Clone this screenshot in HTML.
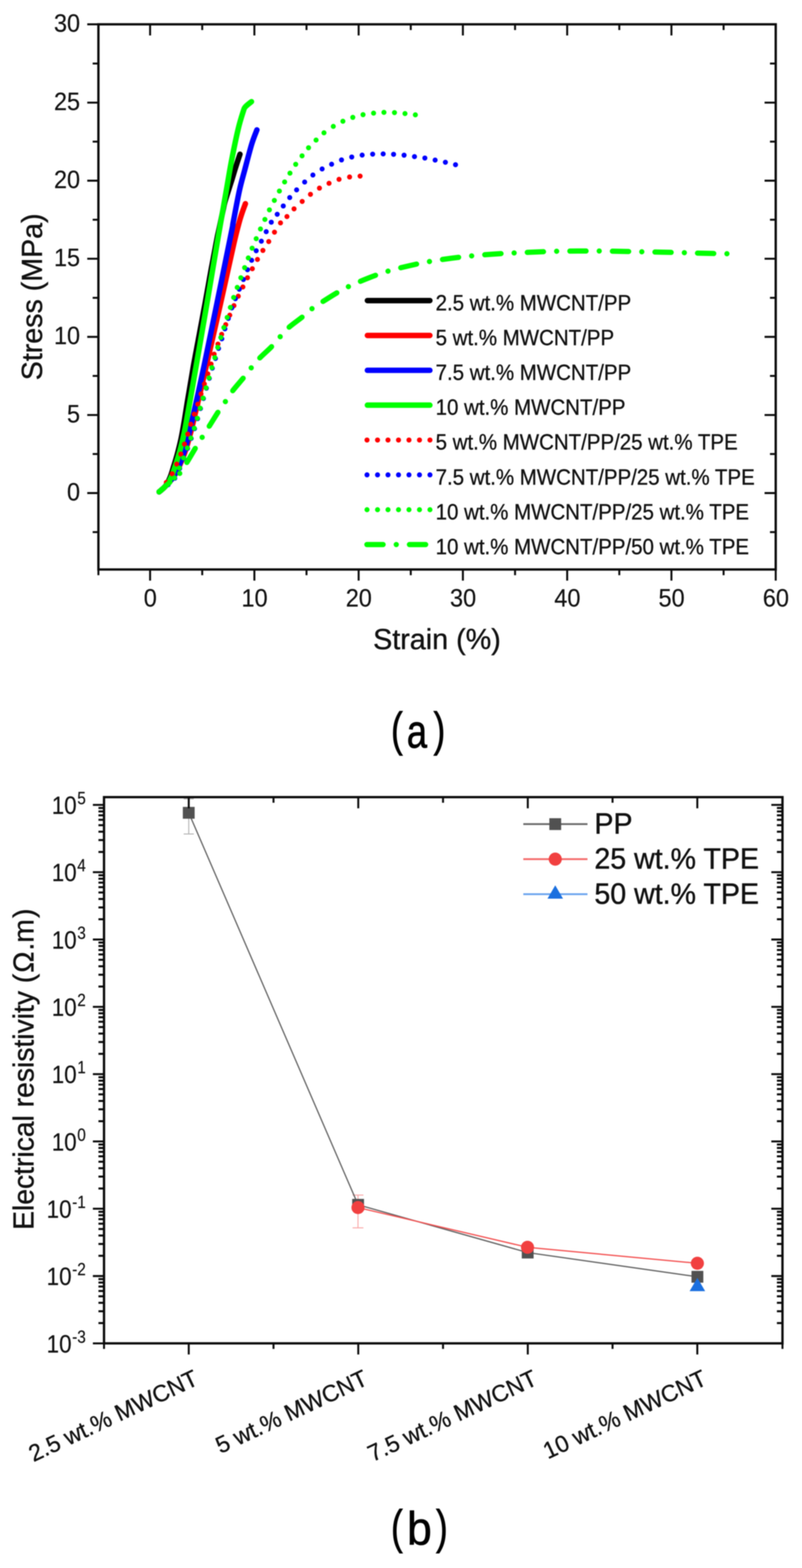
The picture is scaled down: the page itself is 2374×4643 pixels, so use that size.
<!DOCTYPE html>
<html lang="en">
<head>
<meta charset="utf-8">
<title>Stress-strain curves and electrical resistivity of MWCNT/PP/TPE composites</title>
<style>
html,body{margin:0;padding:0;background:#fff;}
body{width:2374px;height:4643px;overflow:hidden;font-family:"Liberation Sans", Arial, Helvetica, sans-serif;}
svg{display:block;filter:blur(1.4px);}
text{white-space:pre;}
</style>
</head>
<body>
<svg width="2374" height="4643" viewBox="0 0 2374 4643" role="img" aria-label="Figure with panels (a) and (b)">
<rect width="2374" height="4643" fill="#fff"/>
<g id="chart-a">
<g fill="none" stroke-linecap="round" stroke-linejoin="round" stroke-width="16.2">
<path d="M471.0,1456.5 C473.3,1454.5 481.1,1448.5 485.0,1444.5 C488.9,1440.5 492.0,1436.5 494.6,1432.5 C497.2,1428.5 498.6,1424.5 500.4,1420.5 C502.2,1416.5 503.9,1412.5 505.4,1408.5 C506.9,1404.5 508.1,1400.5 509.4,1396.5 C510.7,1392.5 511.8,1388.5 513.0,1384.5 C514.2,1380.5 515.6,1376.5 516.8,1372.5 C518.0,1368.5 519.2,1364.5 520.4,1360.5 C521.6,1356.5 522.8,1352.5 523.9,1348.5 C525.0,1344.5 526.1,1340.5 527.1,1336.5 C528.1,1332.5 529.1,1328.5 530.1,1324.5 C531.1,1320.5 532.1,1316.5 533.0,1312.5 C533.9,1308.5 534.9,1304.5 535.7,1300.5 C536.6,1296.5 537.3,1292.5 538.1,1288.5 C538.9,1284.5 539.7,1280.5 540.4,1276.5 C541.1,1272.5 541.8,1268.5 542.5,1264.5 C543.2,1260.5 543.9,1256.5 544.6,1252.5 C545.3,1248.5 546.0,1244.5 546.6,1240.5 C547.2,1236.5 547.9,1232.5 548.5,1228.5 C549.1,1224.5 549.8,1220.5 550.4,1216.5 C551.0,1212.5 551.7,1208.5 552.3,1204.5 C552.9,1200.5 553.6,1196.5 554.2,1192.5 C554.9,1188.5 555.5,1184.5 556.2,1180.5 C556.9,1176.5 557.6,1172.5 558.3,1168.5 C559.0,1164.5 559.6,1160.5 560.3,1156.5 C561.0,1152.5 561.6,1148.5 562.3,1144.5 C563.0,1140.5 563.6,1136.5 564.3,1132.5 C565.0,1128.5 565.7,1124.5 566.4,1120.5 C567.1,1116.5 567.7,1112.5 568.4,1108.5 C569.1,1104.5 569.7,1100.5 570.4,1096.5 C571.1,1092.5 571.7,1088.5 572.4,1084.5 C573.1,1080.5 573.9,1076.5 574.6,1072.5 C575.4,1068.5 576.1,1064.5 576.9,1060.5 C577.6,1056.5 578.4,1052.5 579.1,1048.5 C579.9,1044.5 580.6,1040.5 581.4,1036.5 C582.1,1032.5 582.9,1028.5 583.6,1024.5 C584.4,1020.5 585.1,1016.5 585.9,1012.5 C586.6,1008.5 587.4,1004.5 588.1,1000.5 C588.9,996.5 589.6,992.5 590.4,988.5 C591.1,984.5 591.9,980.5 592.6,976.5 C593.3,972.5 594.0,968.5 594.8,964.5 C595.5,960.5 596.4,956.5 597.1,952.5 C597.9,948.5 598.6,944.5 599.3,940.5 C600.0,936.5 600.8,932.5 601.5,928.5 C602.2,924.5 603.0,920.5 603.7,916.5 C604.5,912.5 605.2,908.5 606.0,904.5 C606.8,900.5 607.5,896.5 608.2,892.5 C608.9,888.5 609.6,884.5 610.3,880.5 C611.0,876.5 611.8,872.5 612.5,868.5 C613.2,864.5 613.9,860.5 614.6,856.5 C615.3,852.5 616.1,848.5 616.8,844.5 C617.5,840.5 618.2,836.5 618.9,832.5 C619.6,828.5 620.3,824.5 621.0,820.5 C621.7,816.5 622.5,812.5 623.2,808.5 C623.9,804.5 624.6,800.5 625.3,796.5 C626.0,792.5 626.8,788.5 627.6,784.5 C628.4,780.5 629.1,776.5 629.9,772.5 C630.6,768.5 631.4,764.5 632.1,760.5 C632.9,756.5 633.6,752.5 634.4,748.5 C635.2,744.5 636.0,740.5 636.7,736.5 C637.5,732.5 638.1,728.5 638.9,724.5 C639.6,720.5 640.4,716.5 641.2,712.5 C642.0,708.5 642.7,704.5 643.5,700.5 C644.3,696.5 645.2,692.5 646.1,688.5 C647.0,684.5 647.9,680.5 648.8,676.5 C649.7,672.5 650.5,668.5 651.4,664.5 C652.2,660.5 653.1,656.5 653.9,652.5 C654.7,648.5 655.5,644.5 656.4,640.5 C657.2,636.5 658.1,632.5 659.0,628.5 C659.9,624.5 660.6,621.2 661.6,616.5 C662.6,611.8 662.7,608.8 665.1,600.0 C667.5,591.2 672.9,574.5 676.3,563.7 C679.7,552.9 682.5,544.5 685.5,535.0 C688.5,525.5 691.2,516.0 694.0,506.8 C696.8,497.6 699.8,488.4 702.5,480.0 C705.2,471.6 709.0,460.6 710.3,456.7" stroke="#000"/>
<path d="M471.0,1456.5 C472.7,1455.1 477.8,1450.9 481.0,1448.0 C484.2,1445.1 487.0,1442.5 490.5,1439.0 C494.0,1435.5 497.9,1431.8 502.0,1427.0 C506.1,1422.2 510.8,1416.5 515.0,1410.0 C519.2,1403.5 521.8,1400.8 527.5,1388.0 C533.2,1375.2 542.5,1354.3 549.5,1333.0 C556.5,1311.7 559.2,1302.2 569.5,1260.0 C579.8,1217.8 597.7,1140.0 611.5,1080.0 C625.3,1020.0 639.0,960.0 652.5,900.0 C666.0,840.0 683.3,760.0 692.5,720.0 C701.7,680.0 703.6,674.7 707.5,660.0 C711.4,645.3 712.9,641.5 716.0,632.0 C719.1,622.5 724.7,608.0 726.4,603.2" stroke="#ff0000"/>
<path d="M471.0,1456.5 C472.7,1455.1 477.8,1450.9 481.0,1448.0 C484.2,1445.1 487.0,1442.5 490.5,1439.0 C494.0,1435.5 498.1,1431.8 502.0,1427.0 C505.9,1422.2 510.0,1416.5 514.0,1410.0 C518.0,1403.5 520.6,1400.8 526.0,1388.0 C531.4,1375.2 540.0,1354.3 546.5,1333.0 C553.0,1311.7 555.3,1302.2 565.0,1260.0 C574.7,1217.8 585.2,1173.3 604.8,1080.0 C624.4,986.7 668.3,770.0 682.5,700.0 C696.7,630.0 685.6,682.7 690.0,660.0 C694.4,637.3 703.0,589.9 708.8,563.7 C714.5,537.5 718.5,525.8 724.5,503.0 C730.5,480.2 739.0,446.8 745.0,427.0 C751.0,407.2 757.9,391.6 760.5,384.5" stroke="#0000ff"/>
<path d="M471.0,1456.5 C472.7,1455.1 477.8,1450.9 481.0,1448.0 C484.2,1445.1 487.3,1442.7 490.5,1439.0 C493.7,1435.3 497.1,1430.8 500.0,1426.0 C502.9,1421.2 505.3,1416.3 508.0,1410.0 C510.7,1403.7 511.8,1400.8 516.0,1388.0 C520.2,1375.2 527.4,1354.3 533.0,1333.0 C538.6,1311.7 541.5,1302.2 549.5,1260.0 C557.5,1217.8 570.7,1140.0 581.2,1080.0 C591.7,1020.0 601.5,963.3 612.3,900.0 C623.1,836.7 636.5,756.0 646.1,700.0 C655.7,644.0 663.4,601.6 670.0,563.7 C676.6,525.8 680.1,503.0 686.0,472.6 C691.9,442.2 699.5,405.3 705.2,381.5 C710.9,357.7 716.5,340.9 720.0,330.0 C723.5,319.1 722.3,321.0 726.4,316.2 C730.5,311.4 741.4,303.5 744.4,301.0" stroke="#00ff00"/>
</g>
<g fill="#ff0000">
<circle cx="1065.9" cy="521.5" r="7.5"/><circle cx="1034.8" cy="524.1" r="7.5"/><circle cx="1003.6" cy="531.0" r="7.5"/><circle cx="974.0" cy="542.7" r="7.5"/><circle cx="945.6" cy="557.1" r="7.5"/><circle cx="919.0" cy="575.4" r="7.5"/><circle cx="894.5" cy="596.5" r="7.5"/><circle cx="870.4" cy="618.4" r="7.5"/><circle cx="849.4" cy="641.2" r="7.5"/><circle cx="830.3" cy="660.0" r="7.5"/><circle cx="812.5" cy="687.5" r="7.5"/><circle cx="795.5" cy="715.2" r="7.5"/><circle cx="778.2" cy="741.6" r="7.5"/><circle cx="762.1" cy="768.3" r="7.5"/><circle cx="746.9" cy="795.7" r="7.5"/><circle cx="732.6" cy="822.4" r="7.5"/><circle cx="718.9" cy="849.7" r="7.5"/><circle cx="705.3" cy="877.1" r="7.5"/><circle cx="692.5" cy="905.0" r="7.5"/><circle cx="680.1" cy="933.3" r="7.5"/><circle cx="668.2" cy="961.2" r="7.5"/><circle cx="656.1" cy="990.0" r="7.5"/><circle cx="645.1" cy="1018.9" r="7.5"/><circle cx="633.9" cy="1048.7" r="7.5"/><circle cx="624.8" cy="1078.1" r="7.5"/><circle cx="615.2" cy="1107.0" r="7.5"/><circle cx="605.0" cy="1137.0" r="7.5"/><circle cx="595.0" cy="1166.4" r="7.5"/><circle cx="585.6" cy="1196.8" r="7.5"/><circle cx="575.0" cy="1226.2" r="7.5"/><circle cx="564.8" cy="1256.3" r="7.5"/><circle cx="555.8" cy="1285.4" r="7.5"/><circle cx="546.0" cy="1315.0" r="7.5"/><circle cx="535.2" cy="1344.6" r="7.5"/><circle cx="523.1" cy="1374.3" r="7.5"/><circle cx="509.4" cy="1402.9" r="7.5"/><circle cx="492.4" cy="1428.6" r="7.5"/>
</g>
<g fill="#0000ff">
<circle cx="1348.4" cy="487.7" r="7.5"/><circle cx="1318.4" cy="480.5" r="7.5"/><circle cx="1288.0" cy="474.0" r="7.5"/><circle cx="1257.6" cy="467.9" r="7.5"/><circle cx="1226.9" cy="463.8" r="7.5"/><circle cx="1196.1" cy="459.6" r="7.5"/><circle cx="1165.0" cy="456.9" r="7.5"/><circle cx="1134.2" cy="455.8" r="7.5"/><circle cx="1103.1" cy="456.5" r="7.5"/><circle cx="1072.0" cy="459.2" r="7.5"/><circle cx="1041.2" cy="464.9" r="7.5"/><circle cx="1010.9" cy="473.6" r="7.5"/><circle cx="981.6" cy="486.2" r="7.5"/><circle cx="953.5" cy="500.3" r="7.5"/><circle cx="926.2" cy="518.3" r="7.5"/><circle cx="901.8" cy="539.0" r="7.5"/><circle cx="878.0" cy="562.2" r="7.5"/><circle cx="857.6" cy="585.0" r="7.5"/><circle cx="838.5" cy="609.9" r="7.5"/><circle cx="820.6" cy="634.5" r="7.5"/><circle cx="803.0" cy="657.9" r="7.5"/><circle cx="788.0" cy="686.0" r="7.5"/><circle cx="773.6" cy="714.3" r="7.5"/><circle cx="758.4" cy="742.5" r="7.5"/><circle cx="744.8" cy="770.8" r="7.5"/><circle cx="732.6" cy="798.7" r="7.5"/><circle cx="720.5" cy="827.6" r="7.5"/><circle cx="708.3" cy="856.4" r="7.5"/><circle cx="696.8" cy="884.4" r="7.5"/><circle cx="686.1" cy="911.7" r="7.5"/><circle cx="675.8" cy="943.0" r="7.5"/><circle cx="665.7" cy="973.7" r="7.5"/><circle cx="656.6" cy="1003.2" r="7.5"/><circle cx="646.9" cy="1031.8" r="7.5"/><circle cx="637.8" cy="1061.4" r="7.5"/><circle cx="628.4" cy="1090.2" r="7.5"/><circle cx="619.6" cy="1120.2" r="7.5"/><circle cx="610.9" cy="1149.6" r="7.5"/><circle cx="602.2" cy="1180.0" r="7.5"/><circle cx="593.4" cy="1209.8" r="7.5"/><circle cx="584.9" cy="1239.7" r="7.5"/><circle cx="575.9" cy="1269.2" r="7.5"/><circle cx="565.9" cy="1298.2" r="7.5"/><circle cx="555.3" cy="1327.7" r="7.5"/><circle cx="544.2" cy="1357.2" r="7.5"/><circle cx="531.9" cy="1386.9" r="7.5"/><circle cx="517.4" cy="1416.1" r="7.5"/><circle cx="497.9" cy="1435.2" r="7.5"/>
</g>
<g fill="#00ff00">
<circle cx="1229.5" cy="340.0" r="7.5"/><circle cx="1198.8" cy="336.2" r="7.5"/><circle cx="1167.7" cy="333.5" r="7.5"/><circle cx="1136.5" cy="332.8" r="7.5"/><circle cx="1105.8" cy="335.0" r="7.5"/><circle cx="1074.6" cy="339.6" r="7.5"/><circle cx="1044.3" cy="347.6" r="7.5"/><circle cx="1015.0" cy="359.0" r="7.5"/><circle cx="986.6" cy="374.2" r="7.5"/><circle cx="959.0" cy="393.3" r="7.5"/><circle cx="935.6" cy="414.8" r="7.5"/><circle cx="913.3" cy="437.6" r="7.5"/><circle cx="894.1" cy="461.4" r="7.5"/><circle cx="875.3" cy="486.6" r="7.5"/><circle cx="858.3" cy="512.7" r="7.5"/><circle cx="842.5" cy="538.8" r="7.5"/><circle cx="827.0" cy="565.8" r="7.5"/><circle cx="812.1" cy="593.5" r="7.5"/><circle cx="797.5" cy="621.4" r="7.5"/><circle cx="784.1" cy="649.7" r="7.5"/><circle cx="771.0" cy="678.0" r="7.5"/><circle cx="758.4" cy="706.7" r="7.5"/><circle cx="746.3" cy="734.9" r="7.5"/><circle cx="735.0" cy="763.8" r="7.5"/><circle cx="724.1" cy="792.6" r="7.5"/><circle cx="712.9" cy="822.4" r="7.5"/><circle cx="702.2" cy="851.0" r="7.5"/><circle cx="691.6" cy="880.7" r="7.5"/><circle cx="681.9" cy="910.2" r="7.5"/><circle cx="672.5" cy="939.9" r="7.5"/><circle cx="662.7" cy="969.7" r="7.5"/><circle cx="653.6" cy="999.2" r="7.5"/><circle cx="644.5" cy="1028.6" r="7.5"/><circle cx="636.0" cy="1059.0" r="7.5"/><circle cx="627.2" cy="1088.6" r="7.5"/><circle cx="618.7" cy="1119.0" r="7.5"/><circle cx="610.0" cy="1148.4" r="7.5"/><circle cx="601.3" cy="1178.8" r="7.5"/><circle cx="592.5" cy="1208.6" r="7.5"/><circle cx="584.0" cy="1238.5" r="7.5"/><circle cx="575.0" cy="1268.0" r="7.5"/><circle cx="565.0" cy="1297.0" r="7.5"/><circle cx="554.4" cy="1326.5" r="7.5"/><circle cx="543.3" cy="1356.0" r="7.5"/><circle cx="531.0" cy="1385.7" r="7.5"/><circle cx="516.5" cy="1414.9" r="7.5"/><circle cx="497.0" cy="1434.0" r="7.5"/>
</g>
<path d="M471.0,1456.5 C476.2,1451.8 492.0,1437.5 502.5,1428.0 C513.0,1418.5 525.2,1409.8 533.9,1399.6 C542.6,1389.4 547.1,1379.2 554.8,1366.6 C562.5,1354.0 572.9,1336.0 580.3,1323.8 C587.7,1311.6 592.7,1304.1 599.3,1293.6 C605.9,1283.1 612.0,1273.6 620.0,1261.0 C628.0,1248.4 639.1,1230.1 647.0,1218.0 C654.9,1205.9 660.4,1199.0 667.6,1188.6 C674.8,1178.2 681.1,1167.1 690.0,1155.5 C698.9,1143.9 711.8,1129.8 720.7,1118.8 C729.6,1107.8 735.4,1099.3 743.2,1089.7 C751.0,1080.1 757.4,1071.9 767.5,1061.4 C777.6,1050.9 794.0,1036.9 804.0,1026.5 C814.0,1016.1 819.0,1008.6 827.4,999.2 C835.8,989.8 842.8,980.4 854.1,970.3 C865.4,960.2 883.9,947.5 895.1,938.4 C906.3,929.3 911.0,923.3 921.5,915.5 C932.0,907.7 945.1,899.6 957.8,891.5 C970.5,883.4 985.5,873.9 997.7,866.8 C1009.9,859.7 1015.7,856.1 1031.1,848.9 C1046.5,841.7 1070.3,831.2 1090.0,823.5 C1109.7,815.8 1129.3,808.7 1149.5,802.6 C1169.7,796.5 1190.5,791.7 1211.0,787.0 C1231.5,782.3 1251.5,777.9 1272.2,774.2 C1293.0,770.5 1314.8,767.5 1335.5,764.8 C1356.2,762.0 1375.5,759.8 1396.2,757.7 C1417.0,755.6 1439.0,753.9 1460.0,752.4 C1481.0,750.9 1501.4,750.0 1522.2,749.0 C1543.0,748.0 1564.1,747.1 1585.0,746.3 C1605.9,745.5 1626.5,744.5 1647.5,744.0 C1668.5,743.5 1690.1,743.4 1711.0,743.3 C1731.9,743.2 1752.0,743.1 1772.8,743.3 C1793.6,743.4 1815.2,743.8 1836.0,744.2 C1856.8,744.6 1877.1,745.1 1897.8,745.5 C1918.5,745.9 1939.1,746.3 1960.0,746.8 C1980.9,747.2 2002.1,747.7 2023.1,748.2 C2044.1,748.8 2064.5,749.6 2086.0,750.1 C2107.5,750.6 2141.0,751.1 2152.0,751.3" fill="none" stroke="#00ff00" stroke-width="15.5" stroke-linecap="round" stroke-dasharray="48 39 0.01 39" stroke-dashoffset="5"/>
<g stroke="#0a0a0a" fill="none" stroke-linecap="butt">
<rect x="291.3" y="72.0" width="2004.8999999999999" height="1614.3" stroke-width="6.9"/>
<path d="M291.3,1686.3v17.0M291.3,72.0v17.0M444.3,1686.3v33.0M444.3,72.0v33.0M598.6,1686.3v17.0M598.6,72.0v17.0M753.0,1686.3v33.0M753.0,72.0v33.0M907.3,1686.3v17.0M907.3,72.0v17.0M1061.6,1686.3v33.0M1061.6,72.0v33.0M1215.9,1686.3v17.0M1215.9,72.0v17.0M1370.2,1686.3v33.0M1370.2,72.0v33.0M1524.6,1686.3v17.0M1524.6,72.0v17.0M1678.9,1686.3v33.0M1678.9,72.0v33.0M1833.2,1686.3v17.0M1833.2,72.0v17.0M1987.5,1686.3v33.0M1987.5,72.0v33.0M2141.9,1686.3v17.0M2141.9,72.0v17.0M2296.2,1686.3v33.0M2296.2,72.0v33.0M291.3,72.0h-33.0M2296.2,72.0h-33.0M291.3,188.1h-17.0M2296.2,188.1h-17.0M291.3,303.8h-33.0M2296.2,303.8h-33.0M291.3,419.4h-17.0M2296.2,419.4h-17.0M291.3,535.0h-33.0M2296.2,535.0h-33.0M291.3,650.6h-17.0M2296.2,650.6h-17.0M291.3,766.2h-33.0M2296.2,766.2h-33.0M291.3,881.9h-17.0M2296.2,881.9h-17.0M291.3,997.5h-33.0M2296.2,997.5h-33.0M291.3,1113.1h-17.0M2296.2,1113.1h-17.0M291.3,1228.8h-33.0M2296.2,1228.8h-33.0M291.3,1344.4h-17.0M2296.2,1344.4h-17.0M291.3,1460.0h-33.0M2296.2,1460.0h-33.0M291.3,1575.6h-17.0M2296.2,1575.6h-17.0" stroke-width="5.8"/>
</g>
<g font-family='"Liberation Sans", Arial, Helvetica, sans-serif'>
<text transform="translate(237.0,1481.8) scale(0.94,1)" font-size="74" fill="#111" stroke="#111" stroke-width="0.5" text-anchor="end">0</text>
<text transform="translate(237.0,1250.5) scale(0.94,1)" font-size="74" fill="#111" stroke="#111" stroke-width="0.5" text-anchor="end">5</text>
<text transform="translate(237.0,1019.3) scale(0.94,1)" font-size="74" fill="#111" stroke="#111" stroke-width="0.5" text-anchor="end">10</text>
<text transform="translate(237.0,788.0) scale(0.94,1)" font-size="74" fill="#111" stroke="#111" stroke-width="0.5" text-anchor="end">15</text>
<text transform="translate(237.0,556.8) scale(0.94,1)" font-size="74" fill="#111" stroke="#111" stroke-width="0.5" text-anchor="end">20</text>
<text transform="translate(237.0,325.6) scale(0.94,1)" font-size="74" fill="#111" stroke="#111" stroke-width="0.5" text-anchor="end">25</text>
<text transform="translate(237.0,93.8) scale(0.94,1)" font-size="74" fill="#111" stroke="#111" stroke-width="0.5" text-anchor="end">30</text>
<text transform="translate(444.8,1795.5) scale(0.94,1)" font-size="74" fill="#111" stroke="#111" stroke-width="0.5" text-anchor="middle">0</text>
<text transform="translate(753.5,1795.5) scale(0.94,1)" font-size="74" fill="#111" stroke="#111" stroke-width="0.5" text-anchor="middle">10</text>
<text transform="translate(1062.1,1795.5) scale(0.94,1)" font-size="74" fill="#111" stroke="#111" stroke-width="0.5" text-anchor="middle">20</text>
<text transform="translate(1370.8,1795.5) scale(0.94,1)" font-size="74" fill="#111" stroke="#111" stroke-width="0.5" text-anchor="middle">30</text>
<text transform="translate(1679.4,1795.5) scale(0.94,1)" font-size="74" fill="#111" stroke="#111" stroke-width="0.5" text-anchor="middle">40</text>
<text transform="translate(1988.0,1795.5) scale(0.94,1)" font-size="74" fill="#111" stroke="#111" stroke-width="0.5" text-anchor="middle">50</text>
<text transform="translate(2296.7,1795.5) scale(0.94,1)" font-size="74" fill="#111" stroke="#111" stroke-width="0.5" text-anchor="middle">60</text>
</g>
<g font-family='"Liberation Sans", Arial, Helvetica, sans-serif'>
<text transform="translate(1293.4,1922.0)" font-size="85" fill="#111" stroke="#111" stroke-width="1.1" text-anchor="middle">Strain (%)</text>
<text transform="translate(124.3,879.0) rotate(-90) scale(0.996,1)" font-size="85" fill="#111" stroke="#111" stroke-width="1.1" text-anchor="middle">Stress (MPa)</text>
</g>
<g font-family='"Liberation Sans", Arial, Helvetica, sans-serif'>
<path d="M1087.5,890.1H1272.5" stroke="#000" stroke-width="16.2" stroke-linecap="round" fill="none"/>
<text transform="translate(1289.5,918.6) scale(0.932,1)" font-size="65" fill="#111" stroke="#111" stroke-width="0.9">2.5 wt.% MWCNT/PP</text>
<path d="M1087.5,993.3H1272.5" stroke="#ff0000" stroke-width="16.2" stroke-linecap="round" fill="none"/>
<text transform="translate(1289.5,1021.8) scale(0.932,1)" font-size="65" fill="#111" stroke="#111" stroke-width="0.9">5 wt.% MWCNT/PP</text>
<path d="M1087.5,1096.5H1272.5" stroke="#0000ff" stroke-width="16.2" stroke-linecap="round" fill="none"/>
<text transform="translate(1289.5,1125.0) scale(0.932,1)" font-size="65" fill="#111" stroke="#111" stroke-width="0.9">7.5 wt.% MWCNT/PP</text>
<path d="M1087.5,1199.7H1272.5" stroke="#00ff00" stroke-width="16.2" stroke-linecap="round" fill="none"/>
<text transform="translate(1289.5,1228.2) scale(0.932,1)" font-size="65" fill="#111" stroke="#111" stroke-width="0.9">10 wt.% MWCNT/PP</text>
<circle cx="1086.4" cy="1302.9" r="7.5" fill="#ff0000"/><circle cx="1117.5" cy="1302.9" r="7.5" fill="#ff0000"/><circle cx="1148.5" cy="1302.9" r="7.5" fill="#ff0000"/><circle cx="1179.6" cy="1302.9" r="7.5" fill="#ff0000"/><circle cx="1210.6" cy="1302.9" r="7.5" fill="#ff0000"/><circle cx="1241.7" cy="1302.9" r="7.5" fill="#ff0000"/><circle cx="1272.7" cy="1302.9" r="7.5" fill="#ff0000"/>
<text transform="translate(1289.5,1331.4) scale(0.932,1)" font-size="65" fill="#111" stroke="#111" stroke-width="0.9">5 wt.% MWCNT/PP/25 wt.% TPE</text>
<circle cx="1086.4" cy="1406.1" r="7.5" fill="#0000ff"/><circle cx="1117.5" cy="1406.1" r="7.5" fill="#0000ff"/><circle cx="1148.5" cy="1406.1" r="7.5" fill="#0000ff"/><circle cx="1179.6" cy="1406.1" r="7.5" fill="#0000ff"/><circle cx="1210.6" cy="1406.1" r="7.5" fill="#0000ff"/><circle cx="1241.7" cy="1406.1" r="7.5" fill="#0000ff"/><circle cx="1272.7" cy="1406.1" r="7.5" fill="#0000ff"/>
<text transform="translate(1289.5,1434.6) scale(0.932,1)" font-size="65" fill="#111" stroke="#111" stroke-width="0.9">7.5 wt.% MWCNT/PP/25 wt.% TPE</text>
<circle cx="1086.4" cy="1509.3" r="7.5" fill="#00ff00"/><circle cx="1117.5" cy="1509.3" r="7.5" fill="#00ff00"/><circle cx="1148.5" cy="1509.3" r="7.5" fill="#00ff00"/><circle cx="1179.6" cy="1509.3" r="7.5" fill="#00ff00"/><circle cx="1210.6" cy="1509.3" r="7.5" fill="#00ff00"/><circle cx="1241.7" cy="1509.3" r="7.5" fill="#00ff00"/><circle cx="1272.7" cy="1509.3" r="7.5" fill="#00ff00"/>
<text transform="translate(1289.5,1537.8) scale(0.932,1)" font-size="65" fill="#111" stroke="#111" stroke-width="0.9">10 wt.% MWCNT/PP/25 wt.% TPE</text>
<path d="M1086.0,1612.5H1272.5" stroke="#00ff00" stroke-width="15.5" stroke-linecap="round" stroke-dasharray="48 39 0.01 39" fill="none"/>
<text transform="translate(1289.5,1641.0) scale(0.932,1)" font-size="65" fill="#111" stroke="#111" stroke-width="0.9">10 wt.% MWCNT/PP/50 wt.% TPE</text>
</g>
</g>
<text font-family='"Liberation Sans", Arial, Helvetica, sans-serif' fill="#000" stroke="#000"><tspan x="1157.4" y="2208" font-size="141" stroke-width="2.0" textLength="34.75" lengthAdjust="spacingAndGlyphs">(</tspan><tspan x="1204.2" y="2214" font-size="140" stroke-width="2.0" textLength="59.94" lengthAdjust="spacingAndGlyphs">a</tspan><tspan x="1283.2" y="2208" font-size="141" stroke-width="2.0" textLength="34.75" lengthAdjust="spacingAndGlyphs">)</tspan></text>
<g id="chart-b">
<g fill="none" stroke-width="3">
<path d="M558.7,2365.5V2469.4M543.7,2365.5h30M543.7,2469.4h30" stroke="#b4b4b4"/>
<path d="M1059.7,3538.7V3635.8M1043.7,3538.7h32M1043.7,3635.8h32" stroke="#f9a8a8"/>
<path d="M1060,3556V3580M1045.0,3556h30M1045.0,3580h30" stroke="#9a9a9a"/>
</g>
<polyline points="558.7,2406.8 1060,3567.5 1562,3709 2064.4,3780.7" fill="none" stroke="#626262" stroke-width="3.7"/>
<polyline points="1059.7,3575.7 1561.5,3693.4 2064.3,3740.7" fill="none" stroke="#f35252" stroke-width="3.7"/>
<rect x="541.2" y="2389.3" width="35" height="35" fill="#515151"/>
<rect x="1042.5" y="3550.0" width="35" height="35" fill="#515151"/>
<rect x="1544.5" y="3691.5" width="35" height="35" fill="#515151"/>
<rect x="2046.9" y="3763.2" width="35" height="35" fill="#515151"/>
<circle cx="1059.7" cy="3575.7" r="19.4" fill="#f14040"/>
<circle cx="1561.5" cy="3693.4" r="19.4" fill="#f14040"/>
<circle cx="2064.3" cy="3740.7" r="19.4" fill="#f14040"/>
<path d="M2064.3,3783.7l23.0,39.5h-46z" fill="#1a6fdf"/>
<g stroke="#0a0a0a" fill="none">
<rect x="307.9" y="2360.4" width="2008.2999999999997" height="1617.4" stroke-width="6.9"/>
<path d="M307.9,3977.8v16.5M307.9,2360.4v16.5M558.7,3977.8v33M558.7,2360.4v33M809.6,3977.8v16.5M809.6,2360.4v16.5M1060.5,3977.8v33M1060.5,2360.4v33M1311.4,3977.8v16.5M1311.4,2360.4v16.5M1562.3,3977.8v33M1562.3,2360.4v33M1813.2,3977.8v16.5M1813.2,2360.4v16.5M2064.1,3977.8v33M2064.1,2360.4v33M2316.2,3977.8v16.5M2316.2,2360.4v16.5" stroke-width="5.8"/>
<path d="M307.9,3977.8h-33M2316.2,3977.8h-33M307.9,3778.5h-33M2316.2,3778.5h-33M307.9,3579.2h-33M2316.2,3579.2h-33M307.9,3379.9h-33M2316.2,3379.9h-33M307.9,3180.6h-33M2316.2,3180.6h-33M307.9,2981.3h-33M2316.2,2981.3h-33M307.9,2782.0h-33M2316.2,2782.0h-33M307.9,2582.7h-33M2316.2,2582.7h-33M307.9,2383.4h-33M2316.2,2383.4h-33" stroke-width="5.8"/>
<path d="M307.9,3917.8h-16.5M2316.2,3917.8h-16.5M307.9,3882.7h-16.5M2316.2,3882.7h-16.5M307.9,3857.8h-16.5M2316.2,3857.8h-16.5M307.9,3838.5h-16.5M2316.2,3838.5h-16.5M307.9,3822.7h-16.5M2316.2,3822.7h-16.5M307.9,3809.4h-16.5M2316.2,3809.4h-16.5M307.9,3797.8h-16.5M2316.2,3797.8h-16.5M307.9,3787.6h-16.5M2316.2,3787.6h-16.5M307.9,3718.5h-16.5M2316.2,3718.5h-16.5M307.9,3683.4h-16.5M2316.2,3683.4h-16.5M307.9,3658.5h-16.5M2316.2,3658.5h-16.5M307.9,3639.2h-16.5M2316.2,3639.2h-16.5M307.9,3623.4h-16.5M2316.2,3623.4h-16.5M307.9,3610.1h-16.5M2316.2,3610.1h-16.5M307.9,3598.5h-16.5M2316.2,3598.5h-16.5M307.9,3588.3h-16.5M2316.2,3588.3h-16.5M307.9,3519.2h-16.5M2316.2,3519.2h-16.5M307.9,3484.1h-16.5M2316.2,3484.1h-16.5M307.9,3459.2h-16.5M2316.2,3459.2h-16.5M307.9,3439.9h-16.5M2316.2,3439.9h-16.5M307.9,3424.1h-16.5M2316.2,3424.1h-16.5M307.9,3410.8h-16.5M2316.2,3410.8h-16.5M307.9,3399.2h-16.5M2316.2,3399.2h-16.5M307.9,3389.0h-16.5M2316.2,3389.0h-16.5M307.9,3319.9h-16.5M2316.2,3319.9h-16.5M307.9,3284.8h-16.5M2316.2,3284.8h-16.5M307.9,3259.9h-16.5M2316.2,3259.9h-16.5M307.9,3240.6h-16.5M2316.2,3240.6h-16.5M307.9,3224.8h-16.5M2316.2,3224.8h-16.5M307.9,3211.5h-16.5M2316.2,3211.5h-16.5M307.9,3199.9h-16.5M2316.2,3199.9h-16.5M307.9,3189.7h-16.5M2316.2,3189.7h-16.5M307.9,3120.6h-16.5M2316.2,3120.6h-16.5M307.9,3085.5h-16.5M2316.2,3085.5h-16.5M307.9,3060.6h-16.5M2316.2,3060.6h-16.5M307.9,3041.3h-16.5M2316.2,3041.3h-16.5M307.9,3025.5h-16.5M2316.2,3025.5h-16.5M307.9,3012.2h-16.5M2316.2,3012.2h-16.5M307.9,3000.6h-16.5M2316.2,3000.6h-16.5M307.9,2990.4h-16.5M2316.2,2990.4h-16.5M307.9,2921.3h-16.5M2316.2,2921.3h-16.5M307.9,2886.2h-16.5M2316.2,2886.2h-16.5M307.9,2861.3h-16.5M2316.2,2861.3h-16.5M307.9,2842.0h-16.5M2316.2,2842.0h-16.5M307.9,2826.2h-16.5M2316.2,2826.2h-16.5M307.9,2812.9h-16.5M2316.2,2812.9h-16.5M307.9,2801.3h-16.5M2316.2,2801.3h-16.5M307.9,2791.1h-16.5M2316.2,2791.1h-16.5M307.9,2722.0h-16.5M2316.2,2722.0h-16.5M307.9,2686.9h-16.5M2316.2,2686.9h-16.5M307.9,2662.0h-16.5M2316.2,2662.0h-16.5M307.9,2642.7h-16.5M2316.2,2642.7h-16.5M307.9,2626.9h-16.5M2316.2,2626.9h-16.5M307.9,2613.6h-16.5M2316.2,2613.6h-16.5M307.9,2602.0h-16.5M2316.2,2602.0h-16.5M307.9,2591.8h-16.5M2316.2,2591.8h-16.5M307.9,2522.7h-16.5M2316.2,2522.7h-16.5M307.9,2487.6h-16.5M2316.2,2487.6h-16.5M307.9,2462.7h-16.5M2316.2,2462.7h-16.5M307.9,2443.4h-16.5M2316.2,2443.4h-16.5M307.9,2427.6h-16.5M2316.2,2427.6h-16.5M307.9,2414.3h-16.5M2316.2,2414.3h-16.5M307.9,2402.7h-16.5M2316.2,2402.7h-16.5M307.9,2392.5h-16.5M2316.2,2392.5h-16.5" stroke-width="6"/>
</g>
<g font-family='"Liberation Sans", Arial, Helvetica, sans-serif'>
<text transform="translate(254.0,4004.5) scale(0.89,1)" font-size="74.5" fill="#111" stroke="#111" stroke-width="0.5" text-anchor="end">10<tspan font-size="51" dx="2" dy="-29">-3</tspan></text>
<text transform="translate(254.0,3805.2) scale(0.89,1)" font-size="74.5" fill="#111" stroke="#111" stroke-width="0.5" text-anchor="end">10<tspan font-size="51" dx="2" dy="-29">-2</tspan></text>
<text transform="translate(254.0,3605.9) scale(0.89,1)" font-size="74.5" fill="#111" stroke="#111" stroke-width="0.5" text-anchor="end">10<tspan font-size="51" dx="2" dy="-29">-1</tspan></text>
<text transform="translate(254.0,3406.6) scale(0.89,1)" font-size="74.5" fill="#111" stroke="#111" stroke-width="0.5" text-anchor="end">10<tspan font-size="51" dx="2" dy="-29">0</tspan></text>
<text transform="translate(254.0,3207.3) scale(0.89,1)" font-size="74.5" fill="#111" stroke="#111" stroke-width="0.5" text-anchor="end">10<tspan font-size="51" dx="2" dy="-29">1</tspan></text>
<text transform="translate(254.0,3008.0) scale(0.89,1)" font-size="74.5" fill="#111" stroke="#111" stroke-width="0.5" text-anchor="end">10<tspan font-size="51" dx="2" dy="-29">2</tspan></text>
<text transform="translate(254.0,2808.7) scale(0.89,1)" font-size="74.5" fill="#111" stroke="#111" stroke-width="0.5" text-anchor="end">10<tspan font-size="51" dx="2" dy="-29">3</tspan></text>
<text transform="translate(254.0,2609.4) scale(0.89,1)" font-size="74.5" fill="#111" stroke="#111" stroke-width="0.5" text-anchor="end">10<tspan font-size="51" dx="2" dy="-29">4</tspan></text>
<text transform="translate(254.0,2410.1) scale(0.89,1)" font-size="74.5" fill="#111" stroke="#111" stroke-width="0.5" text-anchor="end">10<tspan font-size="51" dx="2" dy="-29">5</tspan></text>
</g>
<g font-family='"Liberation Sans", Arial, Helvetica, sans-serif'>
<text transform="translate(591.2,4098.0) rotate(-25.2) scale(0.985,1)" font-size="69.5" fill="#111" stroke="#111" stroke-width="0.9" text-anchor="end">2.5 wt.% MWCNT</text>
<text transform="translate(1093.0,4098.0) rotate(-25.2) scale(0.985,1)" font-size="69.5" fill="#111" stroke="#111" stroke-width="0.9" text-anchor="end">5 wt.% MWCNT</text>
<text transform="translate(1594.8,4098.0) rotate(-25.2) scale(0.985,1)" font-size="69.5" fill="#111" stroke="#111" stroke-width="0.9" text-anchor="end">7.5 wt.% MWCNT</text>
<text transform="translate(2096.6,4098.0) rotate(-25.2) scale(0.985,1)" font-size="69.5" fill="#111" stroke="#111" stroke-width="0.9" text-anchor="end">10 wt.% MWCNT</text>
</g>
<g font-family='"Liberation Sans", Arial, Helvetica, sans-serif'><text transform="translate(99.2,3166.1) rotate(-90) scale(0.9855,1)" font-size="85" fill="#111" stroke="#111" stroke-width="1.1" text-anchor="middle">Electrical resistivity (<tspan dx="3">&#937;</tspan><tspan dx="3">.m</tspan><tspan dx="3.5">)</tspan></text></g>
<g font-family='"Liberation Sans", Arial, Helvetica, sans-serif'>
<path d="M1549,2440.3H1739" stroke="#6a6a6a" stroke-width="5.4" fill="none"/>
<rect x="1626.1" y="2422.8" width="35" height="35" fill="#515151"/>
<text transform="translate(1759.5,2468.1) scale(0.972,1)" font-size="87" fill="#111" stroke="#111" stroke-width="1.2">PP</text>
<path d="M1549,2544.0H1739" stroke="#f46a6a" stroke-width="5.4" fill="none"/>
<circle cx="1643.6" cy="2544.0" r="19.4" fill="#f14040"/>
<text transform="translate(1759.5,2571.8) scale(0.972,1)" font-size="87" fill="#111" stroke="#111" stroke-width="1.2">25 wt.% TPE</text>
<path d="M1549,2647.7H1739" stroke="#6ba4ee" stroke-width="5.4" fill="none"/>
<path d="M1643.6,2621.4l23.0,39.5h-46z" fill="#1a6fdf"/>
<text transform="translate(1759.5,2675.5) scale(0.972,1)" font-size="87" fill="#111" stroke="#111" stroke-width="1.2">50 wt.% TPE</text>
</g>
</g>
<text font-family='"Liberation Sans", Arial, Helvetica, sans-serif' fill="#000" stroke="#000"><tspan x="1157.4" y="4570" font-size="141" stroke-width="2.0" textLength="34.75" lengthAdjust="spacingAndGlyphs">(</tspan><tspan x="1204.8" y="4574" font-size="140" stroke-width="1.6" textLength="73.48" lengthAdjust="spacingAndGlyphs">b</tspan><tspan x="1290.5" y="4570" font-size="141" stroke-width="2.0" textLength="34.75" lengthAdjust="spacingAndGlyphs">)</tspan></text>
</svg>
</body>
</html>
